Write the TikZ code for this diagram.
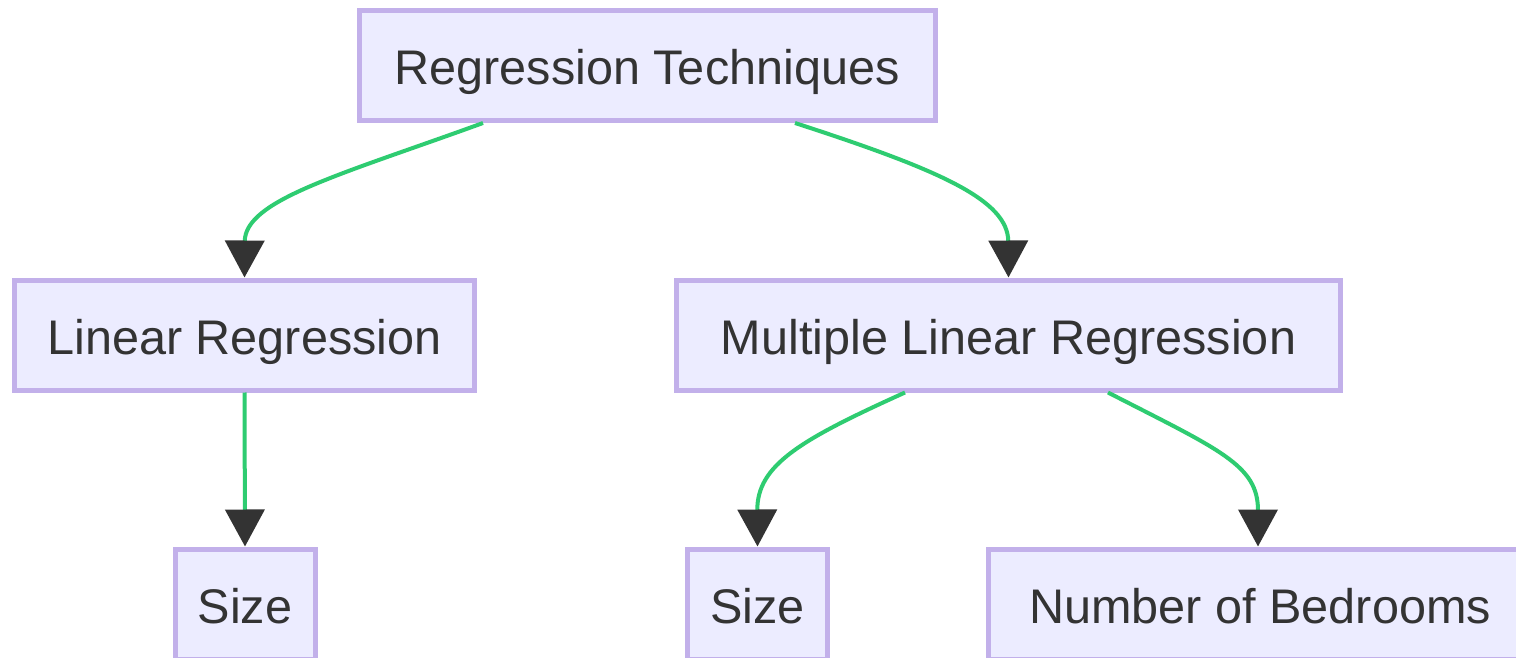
\documentclass[tikz,border=0pt]{standalone}
\usepackage{fontspec}
\setmainfont{Liberation Sans}
\usetikzlibrary{arrows.meta}
\definecolor{boxfill}{HTML}{ECECFF}
\definecolor{boxline}{HTML}{C2B0EA}
\definecolor{edgegreen}{HTML}{2ECC71}
\definecolor{tipgray}{HTML}{333333}
\definecolor{textgray}{HTML}{333333}
\tikzset{
  box/.style={draw=boxline, fill=boxfill, line width=2.5pt, rectangle,
    minimum height=55pt, inner sep=0pt, text=textgray,
    text height=19.5pt, text depth=0pt,
    font=\fontsize{24.3pt}{29pt}\selectfont},
  link/.style={draw=edgegreen, line width=2pt,
    -{Triangle[width=19.5pt,length=18.5pt,color=tipgray]}}
}
\begin{document}
\begin{tikzpicture}[x=0.5pt,y=-0.5pt]
  \clip (0,0) rectangle (1516,658);
  \fill[white] (0,0) rectangle (1516,658);
  % tree of regression methods
  \node[box, minimum width=288pt] (rt)  at (647,65.5)  {Regression Techniques};
  \node[box, minimum width=230pt] (lr)  at (244.5,335) {Linear Regression};
  \node[box, minimum width=332pt] (mlr) at (1008.5,335) {Multiple Linear Regression};
  \node[box, minimum width=70pt]  (s1)  at (245,604)   {Size};
  \node[box, minimum width=70pt]  (s2)  at (757.5,604) {Size};
  \node[box, minimum width=272pt] (nb)  at (1260,604)  {Number of Bedrooms};
  % connectors
  \draw[link] (rt.south -| 483,0) .. controls (340,175) and (245,200) .. (lr.north);
  \draw[link] (rt.south -| 795,0) .. controls (940,170) and (1008,200) .. (mlr.north);
  \draw[link] (lr.south) -- (s1.north);
  \draw[link] (mlr.south -| 905,0) .. controls (800,440) and (757,465) .. (s2.north);
  \draw[link] (mlr.south -| 1108,0) .. controls (1220,450) and (1258,465) .. (nb.north -| 1258,0);
\end{tikzpicture}
\end{document}
